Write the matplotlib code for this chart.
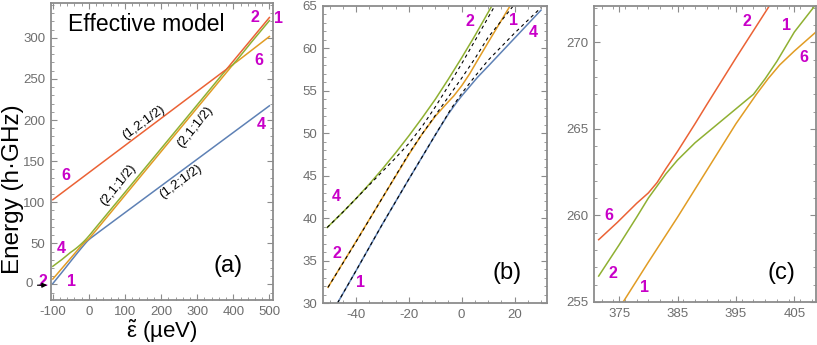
import matplotlib
matplotlib.use("Agg")
import matplotlib.pyplot as plt
import numpy as np
from matplotlib.ticker import MultipleLocator, FixedLocator, FuncFormatter

plt.rcParams['font.family'] = ['Liberation Sans', 'DejaVu Sans']
plt.rcParams['axes.unicode_minus'] = False

# ---- data ----
blue_x = [-100, -75, -47, -40, -30, -20, -10, -5, -2, 0, 3, 6, 10, 20, 30, 100, 200, 300, 400, 500]
blue_y = [1, 14.5, 30, 33.8, 39.3, 44.6, 49.8, 52.3, 53.6, 54.4, 55.5, 56.6, 57.9, 61.2, 64.5, 87.3, 119.8, 152.3, 184.8, 217.3]

orange_x = [-100, -50.6, -40, -30, -20, -15, -10, -6, -3, 0, 3, 6, 10, 18.3, 100, 200, 300, 375.5, 380, 385,
            390, 395, 398.5, 400.5, 402.5, 405, 408.7, 450, 500]
orange_y = [6.5, 31.85, 37.25, 42.4, 47.5, 49.9, 52.0, 53.4, 54.4, 55.6, 57.0, 58.6, 60.7, 65.0, 108.4, 161.6, 214.8, 254.9, 257.3, 259.9,
            262.6, 265.3, 267.0, 267.9, 268.7, 269.5, 270.6, 284.6, 301.6]

green_x = [-100, -75, -50.9, -45, -40, -35, -30, -25, -20, -15, -10, -5, 0, 5, 11.4, 50, 100, 200, 300,
           371.5, 375, 378, 380, 381.5, 383, 385, 388, 393, 398, 400, 402, 405, 408.7, 450, 500]
green_y = [22, 30.2, 38.9, 40.7, 42.3, 44.0, 45.8, 47.7, 49.7, 51.8, 54.0, 56.4, 58.9, 61.5, 65.0, 85.5, 112, 165.2, 218.4,
           256.5, 258.3, 259.9, 261.0, 261.7, 262.4, 263.2, 264.2, 265.6, 267.0, 267.9, 268.9, 270.6, 272.2, 294.6, 320.9]

red_x = [-100, 0, 100, 200, 300, 350, 371.5, 374.7, 378, 380, 381.5, 383, 385, 388, 390, 395, 400.7, 450, 500]
red_y = [103, 136, 169, 202, 235, 251.5, 258.6, 259.6, 260.7, 261.3, 261.9, 262.7, 263.7, 265.3, 266.4, 269.1, 272.1, 298.2, 324.7]

# dashed curves of panel (b)
dashA_x = [-50.9, -45, -40, -35, -30, -25, -20, -15, -10, -5, 0, 5, 12.5]
dashA_y = [38.9, 40.7, 42.3, 43.9, 45.5, 47.1, 48.8, 50.8, 53.1, 55.6, 58.2, 60.9, 65.0]
dashB_x = [-50.6, -40, -30, -20, -15, -10, -5, 0, 5, 10, 19.5]
dashB_y = [31.85, 37.2, 42.4, 47.6, 49.9, 52.1, 54.3, 56.5, 58.8, 61.3, 65.0]
dashC_x = [-47, -40, -30, -20, -10, -4, 0, 5, 10, 20, 30]
dashC_y = [30, 33.8, 39.3, 44.6, 49.8, 52.9, 54.7, 56.7, 58.6, 61.8, 64.8]

# state labels: (text, x, y)
labels_a = [("2", -128, 3), ("1", -49, 3.5), ("4", -77, 44), ("6", -63, 133),
            ("2", 460, 325), ("1", 524, 324), ("6", 472, 273), ("4", 478, 195)]
labels_b = [("2", 3.1, 63.2), ("1", 19.5, 63.3), ("4", 27.1, 61.9),
            ("4", -47.3, 42.5), ("2", -47.3, 35.8), ("1", -38.2, 32.4)]
labels_c = [("2", 396.8, 271.2), ("1", 403.7, 271.0), ("6", 406.7, 269.1),
            ("6", 373.2, 260.0), ("2", 373.9, 256.65), ("1", 379.3, 255.85)]
# rotated configuration labels in (a): (text, x, y, angle)
conf_a = [("(1,2;1/2)", 151, 197, 36), ("(2,1;1/2)", 80, 121, 51),
          ("(2,1;1/2)", 295, 191, 51), ("(1,2;1/2)", 253, 125, 36)]

C_BLUE, C_ORANGE, C_GREEN, C_RED = '#5E81B5', '#E19C24', '#8FB032', '#EB6235'
MAG = '#C800C8'
FRAME = '#8C8C8C'
TICKC = '#6E6E6E'
LW = 1.1

fig = plt.figure(figsize=(8.17, 3.45), dpi=100)
axa = fig.add_axes([51/817, 45/345, 222/817, 296.7/345])
axb = fig.add_axes([323/817, 42/345, 224/817, 297/345])
axc = fig.add_axes([594/817, 43/345, 222/817, 296/345])

def style(ax):
    for s in ax.spines.values():
        s.set_color(FRAME)
        s.set_linewidth(1.3)
    ax.tick_params(which='both', direction='in', top=True, right=True, colors=FRAME,
                   labelcolor=TICKC, labelsize=9.5)
    ax.tick_params(which='major', length=4, width=0.8, pad=4)
    ax.tick_params(which='minor', length=2, width=0.6)

def lab(ax, items):
    for t, x, y in items:
        ax.text(x, y, t, color=MAG, fontsize=11.5, fontweight='bold', ha='center', va='center',
                clip_on=False)

def sel(xs, ys, lo, hi):
    xs = np.asarray(xs); ys = np.asarray(ys)
    m = (xs >= lo) & (xs <= hi)
    return xs[m], ys[m]

# ---- panel (a) ----
for xs, ys, c in [(blue_x, blue_y, C_BLUE), (orange_x, orange_y, C_ORANGE),
                  (green_x, green_y, C_GREEN), (red_x, red_y, C_RED)]:
    axa.plot(xs, ys, color=c, lw=LW)
axa.set_xlim(-105, 510)
axa.set_ylim(-19, 342)
axa.xaxis.set_major_locator(MultipleLocator(100))
axa.xaxis.set_minor_locator(MultipleLocator(20))
axa.yaxis.set_major_locator(MultipleLocator(50))
axa.yaxis.set_minor_locator(MultipleLocator(10))
axa.yaxis.set_major_formatter(FuncFormatter(lambda v, p: "" if abs(v) < 1e-9 else f"{v:g}"))
style(axa)
axa.set_xlabel(r"$\tilde{\mathregular{\varepsilon}}$ (µeV)", fontsize=16, labelpad=0)
axa.set_ylabel("Energy (h·GHz)", fontsize=17.5)
axa.yaxis.set_label_coords(-0.122, 0.372)
axa.text(158, 316, "Effective model", fontsize=16.5, ha='center', va='center')
axa.text(385, 22, "(a)", fontsize=17, ha='center', va='center')
for t, x, y, a in conf_a:
    axa.text(x, y, t, fontsize=9.5, rotation=a, ha='center', va='center', rotation_mode='anchor')
lab(axa, labels_a)
axa.text(-166, 0, "0", fontsize=9.5, color=TICKC, ha='center', va='center', clip_on=False)
axa.annotate("", xy=(-108, -1), xytext=(-150, -1),
             arrowprops=dict(arrowstyle='-|>', color='black', lw=0.9, mutation_scale=7),
             annotation_clip=False)

# ---- panel (b) ----
for xs, ys, c in [(blue_x, blue_y, C_BLUE), (orange_x, orange_y, C_ORANGE),
                  (green_x, green_y, C_GREEN)]:
    bx, by = sel(xs, ys, -51, 40)
    axb.plot(bx, by, color=c, lw=LW)
for xs, ys in [(dashA_x, dashA_y), (dashB_x, dashB_y), (dashC_x, dashC_y)]:
    axb.plot(xs, ys, color='black', lw=0.8, ls=(0, (3, 3)))
axb.set_xlim(-52.5, 32.3)
axb.set_ylim(30, 65)
axb.xaxis.set_major_locator(MultipleLocator(20))
axb.xaxis.set_minor_locator(MultipleLocator(5))
axb.yaxis.set_major_locator(MultipleLocator(5))
axb.yaxis.set_minor_locator(MultipleLocator(1))
style(axb)
axb.text(17, 33.5, "(b)", fontsize=17, ha='center', va='center')
lab(axb, labels_b)

# ---- panel (c) ----
for xs, ys, c in [(orange_x, orange_y, C_ORANGE), (green_x, green_y, C_GREEN), (red_x, red_y, C_RED)]:
    cx, cy = sel(xs, ys, 371.5, 420)
    axc.plot(cx, cy, color=c, lw=LW)
axc.set_xlim(370.7, 408.7)
axc.set_ylim(255, 272.1)
axc.xaxis.set_major_locator(FixedLocator([375, 385, 395, 405]))
axc.xaxis.set_minor_locator(MultipleLocator(2))
axc.yaxis.set_major_locator(MultipleLocator(5))
axc.yaxis.set_minor_locator(MultipleLocator(1))
style(axc)
axc.text(402.7, 256.65, "(c)", fontsize=17, ha='center', va='center')
lab(axc, labels_c)

fig.savefig("out.png", dpi=100)
